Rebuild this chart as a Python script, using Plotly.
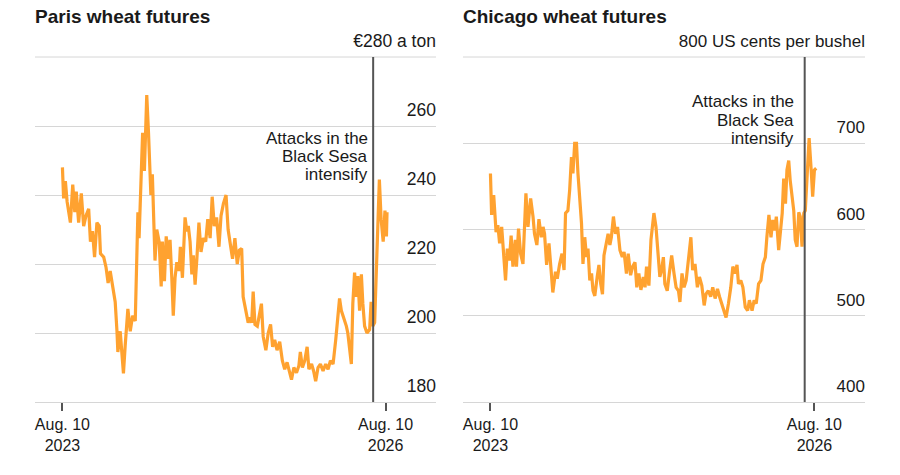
import pandas as pd
import plotly.graph_objects as go
from plotly.subplots import make_subplots

# days after Aug. 10 2023
paris_days = [0, 4, 10, 16, 27, 35, 42, 47, 55, 64, 72, 80, 89, 95, 102, 109, 117, 125, 129, 140,
              148, 155, 162, 170, 179, 185, 188, 196, 202, 207, 213, 222, 230, 238, 247, 253, 256, 260, 267, 272,
              278, 283, 286, 292, 300, 305, 311, 314, 320, 328, 335, 339, 346, 352, 360, 365, 371, 376, 382, 388,
              396, 400, 407, 416, 422, 427, 433, 439, 444, 450, 456, 463, 470, 478, 486, 493, 501, 508, 515, 523,
              531, 538, 546, 555, 562, 571, 577, 585, 593, 600, 608, 613, 622, 630, 636, 642, 647, 653, 661, 667,
              675, 681, 690, 698, 706, 713, 720, 728, 737, 746, 754, 762, 769, 777, 785, 794, 802, 807, 814, 822,
              830, 836, 845, 852, 859, 867, 875, 884, 893, 901, 909, 918, 927, 934, 940, 946, 954, 963, 968, 974,
              980, 985, 991, 997, 1002, 1008, 1014, 1019, 1025, 1033, 1042, 1047, 1053, 1059, 1064, 1069, 1075, 1081,
              1088, 1094, 1099, 1101]
paris_price = [248, 239, 244, 238, 232, 243, 235, 241, 232, 240.5, 231, 234, 236, 226.5, 229.5, 222, 232, 231, 223, 222,
               219, 214.5, 218, 213, 209, 200.5, 194.5, 200.5, 192.5, 188.3, 196.5, 207, 200.5, 205, 203.5, 225.5, 235, 227.5, 243, 258,
               247, 259, 269, 258, 240, 246, 230, 221, 230, 226.5, 213.5, 226.5, 215, 228, 221.5, 227, 216, 205, 216, 220.5,
               218, 225, 216, 233.5, 229.5, 231, 226.5, 217, 222.5, 214, 221.5, 232, 223.5, 227.5, 226.5, 233, 227.5, 239.5, 231, 233.5,
               225, 234, 237.5, 240, 230, 225, 221.5, 227.5, 220, 224, 224.5, 210.5, 206.5, 203, 204.5, 203, 212, 202.5, 202, 204.5,
               208.5, 199, 195, 200, 202.5, 196, 198, 195, 197.5, 192, 189.5, 191.5, 189.5, 186.5, 190, 188.5, 190.5, 194.5, 190, 192,
               196, 189.5, 191, 189, 186, 190, 191, 189, 191, 189.5, 192, 191, 198, 204, 210, 206.5, 204.5, 202, 200, 195,
               191, 208.5, 217.5, 210.5, 216.5, 206.5, 217, 208.5, 202, 200, 201, 209, 202, 203, 218, 233, 244.5, 233,
               226.5, 235.5, 228, 235]

chicago_days = [0, 4, 11, 19, 25, 31, 38, 45, 51, 57, 64, 70, 76, 84, 88, 95, 102, 110, 115, 120,
                127, 136, 144, 149, 157, 164, 172, 178, 183, 190, 198, 206, 211, 220, 226, 234, 242, 249, 254, 262,
                268, 274, 279, 285, 291, 296, 302, 308, 313, 319, 325, 330, 336, 342, 347, 353, 361, 367, 373, 379,
                384, 390, 398, 404, 409, 416, 423, 430, 438, 446, 452, 460, 466, 474, 481, 489, 495, 502, 509, 517,
                523, 528, 536, 543, 553, 560, 568, 573, 579, 585, 590, 598, 605, 613, 621, 628, 636, 641, 648, 655,
                662, 669, 678, 684, 692, 700, 707, 715, 723, 729, 737, 745, 752, 760, 768, 775, 783, 791, 797, 805,
                813, 820, 828, 834, 839, 847, 854, 862, 870, 876, 885, 892, 899, 907, 915, 922, 930, 935, 942, 949,
                955, 962, 967, 975, 981, 987, 992, 998, 1003, 1009, 1014, 1020, 1026, 1031, 1037, 1043, 1048, 1054,
                1060, 1065, 1071, 1078, 1085, 1090, 1096, 1102]
chicago_price = [665, 617, 640, 597, 605, 584, 603, 572, 541, 578, 564, 593, 557, 588, 557, 601, 572, 560, 607, 642,
                 603, 636, 615, 595, 582, 612, 591, 603, 595, 559, 584, 545, 527, 551, 543, 560, 572, 553, 619, 622,
                 646, 684, 665, 700, 700, 665, 638, 607, 560, 591, 568, 578, 541, 549, 529, 523, 545, 559, 537, 525,
                 570, 580, 595, 582, 591, 615, 595, 603, 576, 568, 574, 549, 572, 547, 557, 562, 533, 549, 530, 545,
                 533, 557, 535, 588, 619, 603, 560, 545, 553, 568, 537, 529, 549, 570, 549, 533, 529, 516, 549, 533,
                 541, 564, 591, 553, 560, 533, 545, 535, 512, 525, 529, 522, 533, 520, 531, 522, 514, 506, 498, 514,
                 533, 557, 549, 559, 537, 541, 533, 510, 506, 518, 506, 518, 514, 537, 541, 560, 568, 591, 617, 591,
                 611, 599, 615, 576, 603, 619, 659, 630, 669, 680, 657, 638, 622, 588, 580, 620, 615, 580,
                 619, 622, 669, 706, 669, 638, 669, 671]

start = pd.Timestamp("2023-08-10")
paris_dates = start + pd.to_timedelta(paris_days, unit="D")
chicago_dates = start + pd.to_timedelta(chicago_days, unit="D")

x_ticks = ["2023-08-10", "2026-08-10"]
x_labels = ["Aug. 10<br>2023", "Aug. 10<br>2026"]
x_range = ["2023-05-09", "2027-01-28"]

paris_ticks = [180, 200, 220, 240, 260, 280]
paris_labels = ["180", "200", "220", "240", "260", "€280 a ton"]
chicago_ticks = [400, 500, 600, 700, 800]
chicago_labels = ["400", "500", "600", "700", "800 US cents per bushel"]

event_paris = "2026-06-29"
event_chicago = "2026-07-08"
event_lines_paris = ["Attacks in the", "Black Sesa", "intensify"]
event_lines_chicago = ["Attacks in the", "Black Sea", "intensify"]

ORANGE = "#ffa230"
TEXT = "#1a1a1a"
GRID = "#d6d6d6"
FONT = "Liberation Sans, Arial, sans-serif"

fig = make_subplots(rows=1, cols=2)
fig.add_trace(go.Scatter(x=paris_dates, y=paris_price, mode="lines",
                         line=dict(color=ORANGE, width=3.2)), row=1, col=1)
fig.add_trace(go.Scatter(x=chicago_dates, y=chicago_price, mode="lines",
                         line=dict(color=ORANGE, width=3.2)), row=1, col=2)

xcommon = dict(range=x_range, tickvals=x_ticks, ticktext=x_labels, showgrid=False,
               ticks="outside", ticklen=8, tickwidth=1.5, tickcolor="#555",
               showline=True, linecolor=GRID, linewidth=1, zeroline=False,
               tickfont=dict(size=16, color=TEXT, family=FONT))
fig.update_xaxes(domain=[0.0389, 0.4844], row=1, col=1, **xcommon)
fig.update_xaxes(domain=[0.5144, 0.9611], row=1, col=2, **xcommon)

ycommon = dict(side="right", ticklabelposition="inside top", ticklabeloverflow="allow",
               showgrid=True, gridcolor=GRID, gridwidth=1, zeroline=False, ticks="",
               ticklabelshift=-4, ticklabelstandoff=-3)
fig.update_yaxes(range=[180, 280], tickvals=paris_ticks, ticktext=paris_labels, row=1, col=1,
                 tickfont=dict(size=17.5, color=TEXT, family=FONT), **ycommon)
fig.update_yaxes(range=[400, 800], tickvals=chicago_ticks, ticktext=chicago_labels, row=1, col=2,
                 tickfont=dict(size=17, color=TEXT, family=FONT), **ycommon)

# top gridline (plotly leaves it out at the range edge)
for xr, yr in [("x domain", "y domain"), ("x2 domain", "y2 domain")]:
    fig.add_shape(type="line", xref=xr, yref=yr, x0=0, x1=1, y0=1, y1=1,
                  line=dict(color=GRID, width=1), layer="below")

# event lines
fig.add_shape(type="line", xref="x", yref="y", x0=event_paris, x1=event_paris, y0=180, y1=280,
              line=dict(color="#555", width=2))
fig.add_shape(type="line", xref="x2", yref="y2", x0=event_chicago, x1=event_chicago, y0=400, y1=800,
              line=dict(color="#555", width=2))

# event labels, one line each so the line spacing can match
for i, line in enumerate(event_lines_paris):
    fig.add_annotation(xref="x", yref="y domain", x=event_paris, y=[0.765, 0.712, 0.659][i], text=line,
                       showarrow=False, xanchor="right", yanchor="middle", xshift=-3,
                       font=dict(size=17, color=TEXT, family=FONT))
for i, line in enumerate(event_lines_chicago):
    fig.add_annotation(xref="x2", yref="y2 domain", x=event_chicago, y=[0.870, 0.817, 0.763][i], text=line,
                       showarrow=False, xanchor="right", yanchor="middle", xshift=-9,
                       font=dict(size=17, color=TEXT, family=FONT))

# panel titles
for xpos, title in [(0.0389, "Paris wheat futures"), (0.5144, "Chicago wheat futures")]:
    fig.add_annotation(xref="paper", yref="paper", x=xpos, y=1.116, text="<b>" + title + "</b>",
                       showarrow=False, xanchor="left", yanchor="middle", xshift=-2,
                       font=dict(size=19, color=TEXT, family=FONT))

fig.update_layout(width=900, height=475, margin=dict(l=0, r=0, t=57, b=73),
                  paper_bgcolor="white", plot_bgcolor="white", showlegend=False,
                  font=dict(family=FONT, color=TEXT))

fig.write_html("out.html", config={"displayModeBar": False},
               post_script="document.body.style.margin='0px';")
